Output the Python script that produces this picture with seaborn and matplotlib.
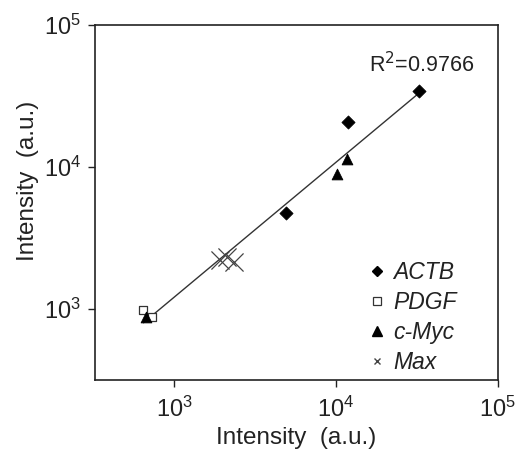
import numpy as np
import pandas as pd
import seaborn as sns
import matplotlib.pyplot as plt

# Values (intensity, a.u.)
genes = ["ACTB", "PDGF", "c-Myc", "Max"]
actb_x = [4930, 11900, 32600]
actb_y = [4770, 20700, 34400]
pdgf_x = [646, 731]
pdgf_y = [975, 874]
cmyc_x = [668, 10200, 11700]
cmyc_y = [883, 8930, 11400]
max_x = [1930, 2120, 2330]
max_y = [2210, 2330, 2150]
r_squared = 0.9766

sns.set_theme(style="white")
plt.rcParams["font.family"] = ["Liberation Sans", "DejaVu Sans"]

data = pd.concat([
    pd.DataFrame({"x": actb_x, "y": actb_y, "gene": "ACTB"}),
    pd.DataFrame({"x": pdgf_x, "y": pdgf_y, "gene": "PDGF"}),
    pd.DataFrame({"x": cmyc_x, "y": cmyc_y, "gene": "c-Myc"}),
    pd.DataFrame({"x": max_x, "y": max_y, "gene": "Max"}),
], ignore_index=True)

fig = plt.figure(figsize=(5.23, 4.5), dpi=100)
ax = fig.add_axes([0.182, 0.156, 0.770, 0.788])

# Linear fit in log-log space
coef = np.polyfit(np.log10(data["x"]), np.log10(data["y"]), 1)
fit_x = np.array([data["x"].min(), data["x"].max()])
fit_y = 10 ** np.polyval(coef, np.log10(fit_x))
ax.plot(fit_x, fit_y, color="#333333", lw=1.0, zorder=1)

styles = {
    "ACTB": dict(marker="D", s=45, color="black", edgecolor="black"),
    "PDGF": dict(marker="s", s=40, color="white", edgecolor="#333333", linewidth=0.9),
    "c-Myc": dict(marker="^", s=60, color="black", edgecolor="black"),
    "Max": dict(marker="x", s=170, color="#444444", linewidth=0.9),
}
for g in genes:
    sub = data[data["gene"] == g]
    sns.scatterplot(data=sub, x="x", y="y", ax=ax, zorder=3, **styles[g])

ax.set_xscale("log")
ax.set_yscale("log")
ax.set_xlim(325, 1e5)
ax.set_ylim(316, 1e5)
ax.set_xticks([1e3, 1e4, 1e5])
ax.set_yticks([1e3, 1e4, 1e5])
ax.minorticks_off()
ax.tick_params(direction="out", length=5, width=1, colors="#222222",
               labelsize=17, bottom=True, left=True)
ax.tick_params(axis="x", pad=7)
ax.tick_params(axis="y", pad=5)
for sp in ax.spines.values():
    sp.set_color("#222222")
    sp.set_linewidth(1.2)

ax.set_xlabel("Intensity  (a.u.)", fontsize=17.5, color="#222222", labelpad=4)
ax.set_ylabel("Intensity  (a.u.)", fontsize=17.5, color="#222222")
ax.yaxis.set_label_coords(-0.14, 0.56)

ax.text(0.68, 0.89, f"R$^2$={r_squared}", transform=ax.transAxes,
        fontsize=15.5, color="#222222", ha="left", va="center")

# Legend with small markers
handles = [
    plt.Line2D([], [], ls="none", marker="D", ms=5, color="black"),
    plt.Line2D([], [], ls="none", marker="s", ms=5.5, mfc="white", mec="#333333", mew=0.9),
    plt.Line2D([], [], ls="none", marker="^", ms=6.5, color="black"),
    plt.Line2D([], [], ls="none", marker="x", ms=4.5, color="#444444", mew=1),
]
leg = ax.legend(handles, genes, loc="upper left", bbox_to_anchor=(0.655, 0.36),
                frameon=False, handlelength=0.8, handletextpad=0.3,
                labelspacing=0.3, borderaxespad=0,
                prop={"size": 16.5, "style": "italic"})
for t in leg.get_texts():
    t.set_color("#222222")

fig.savefig("out.png", dpi=100)
